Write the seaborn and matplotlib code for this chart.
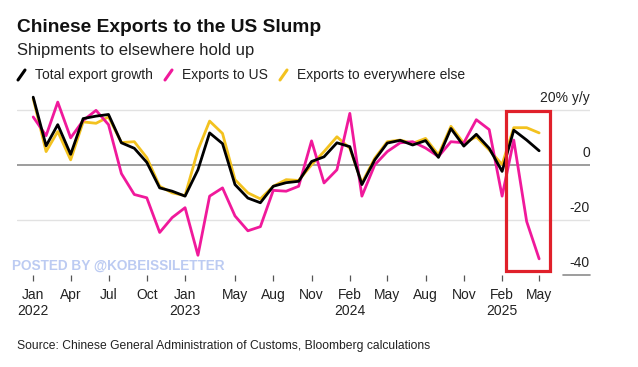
import pandas as pd
import matplotlib
matplotlib.use("Agg")
import matplotlib.pyplot as plt
import matplotlib.dates as mdates
import matplotlib.transforms as mtransforms
from matplotlib.lines import Line2D
from matplotlib.patches import Rectangle
import seaborn as sns

# ---- data (y/y %) ----
months = pd.date_range("2022-01-01", "2025-05-01", freq="MS")

total = [24.5, 6.8, 14.5, 3.7, 16.7, 17.6, 18.2, 7.9, 5.9, 0.8,
         -8.5, -9.7, -11.5, -1.9, 11.5, 7.6, -7.3, -12.2, -13.9, -7.9,
         -6.6, -6.1, 1.1, 2.8, 7.9, 6.5, -7.3, 1.7, 7.8, 8.8,
         7.1, 8.7, 2.6, 13.1, 6.7, 11.0, 5.9, -2.5, 12.5, 8.9, 5.0]

to_us = [17.3, 10.5, 22.7, 9.7, 16.0, 19.7, 14.5, -3.3, -10.9, -12.1,
         -24.7, -19.3, -15.7, -33.0, -11.5, -8.5, -18.7, -24.1, -22.6, -9.4,
         -9.7, -7.9, 8.6, -6.7, -1.9, 18.6, -11.5, -0.1, 4.7, 7.9,
         8.3, 6.0, 2.9, 8.3, 7.9, 16.3, 12.7, -11.5, 8.9, -20.7, -34.3]

elsewhere = [24.0, 4.7, 12.0, 1.7, 15.5, 15.0, 17.3, 8.0, 8.3, 2.5,
             -7.9, -10.3, -11.3, 5.3, 15.8, 11.3, -5.5, -10.3, -12.5, -7.9,
             -5.5, -5.8, -0.1, 4.7, 10.1, 5.9, -6.7, 2.3, 8.3, 8.9,
             7.7, 9.5, 3.5, 13.9, 7.7, 10.1, 5.3, 0.0, 13.4, 13.4, 11.5]

tick_months = ["2022-01", "2022-04", "2022-07", "2022-10", "2023-01", "2023-05",
               "2023-08", "2023-11", "2024-02", "2024-05", "2024-08", "2024-11",
               "2025-02", "2025-05"]
tick_labels = ["Jan\n2022", "Apr", "Jul", "Oct", "Jan\n2023", "May", "Aug", "Nov",
               "Feb\n2024", "May", "Aug", "Nov", "Feb\n2025", "May"]

gridlines = [20, -20]
axis_labels = {20: "20% y/y", 0: "0", -20: "-20", -40: "-40"}

SERIES = ["Total export growth", "Exports to US", "Exports to everywhere else"]
CORES = {"Total export growth": "#000000",
         "Exports to US": "#f0199b",
         "Exports to everywhere else": "#f3c21f"}

# ---- style ----
sns.set_theme(style="white")
plt.rcParams["font.family"] = ["Liberation Sans", "DejaVu Sans"]

df = pd.DataFrame({"month": months,
                   SERIES[0]: total,
                   SERIES[1]: to_us,
                   SERIES[2]: elsewhere})
long = df.melt(id_vars="month", var_name="series", value_name="yoy")

fig = plt.figure(figsize=(6.38, 3.67), dpi=100)
ax = fig.add_axes([0.0266, 0.252, 0.898, 0.502])

# gridlines first so lines sit on top
for g in gridlines:
    ax.axhline(g, color="#e2e2e2", lw=1.0, zorder=0)
ax.axhline(0, color="#8c8c8c", lw=1.2, zorder=1)

sns.lineplot(data=long, x="month", y="yoy", hue="series",
             hue_order=[SERIES[2], SERIES[1], SERIES[0]],
             palette=CORES, linewidth=2.0, legend=False, ax=ax, zorder=3)

ax.set_xlim(pd.Timestamp("2021-11-23"), pd.Timestamp("2025-08-31"))
ax.set_ylim(-40, 27)
for s in ax.spines.values():
    s.set_visible(False)
ax.set_xlabel("")
ax.set_ylabel("")
ax.set_yticks([])
ax.set_xticks(pd.to_datetime(tick_months))
ax.set_xticklabels(tick_labels)
ax.tick_params(axis="x", bottom=True, length=4, width=0.9, color="#555555",
               pad=5.5, labelsize=10, labelcolor="#222222")

# short base line at -40 under the axis labels
blend = mtransforms.blended_transform_factory(ax.transAxes, ax.transData)
ax.plot([0.953, 1.0], [-40, -40], color="#8c8c8c", lw=1.2, transform=blend,
        clip_on=False)

# right-hand value labels, sitting above their lines
for val, lab in axis_labels.items():
    ax.annotate(lab, xy=(1.0, val), xycoords=blend, xytext=(0, 5.5),
                textcoords="offset points", ha="right", va="baseline",
                fontsize=10, color="#222222")

# red highlight box over the last months
x0 = mdates.date2num(months[-4]) + 9
x1 = mdates.date2num(months[-1]) + 26
y_bot = min(to_us) - 4.5
y_top = 19.5
ax.add_patch(Rectangle((x0, y_bot), x1 - x0, y_top - y_bot, fill=False,
                       edgecolor="#e0202a", lw=2.3, zorder=5, clip_on=False))

# ---- header ----
fig.text(17 / 638, 1 - 27 / 367, "Chinese Exports to the US Slump",
         fontsize=13.8, fontweight="bold", color="#111111", va="center")
fig.text(17 / 638, 1 - 50 / 367, "Shipments to elsewhere hold up",
         fontsize=12, color="#222222", va="center")

leg_y = 1 - 75 / 367
leg_items = [(SERIES[0], 18), (SERIES[1], 165), (SERIES[2], 280)]
for name, px in leg_items:
    fig.add_artist(Line2D([px / 638, (px + 7) / 638],
                          [leg_y - 5 / 367, leg_y + 5 / 367],
                          color=CORES[name], lw=2.2, transform=fig.transFigure))
    fig.text((px + 17) / 638, leg_y, name, fontsize=10, color="#222222",
             va="center")

# watermark
fig.text(12 / 638, 1 - 266 / 367, "POSTED BY @KOBEISSILETTER", fontsize=9.8,
         fontweight="bold", color="#bccbf2", va="center", zorder=10)

# source
fig.text(17 / 638, 1 - 346 / 367,
         "Source: Chinese General Administration of Customs, Bloomberg calculations",
         fontsize=8.7, color="#222222", va="center")

fig.savefig("out.png", dpi=100)
